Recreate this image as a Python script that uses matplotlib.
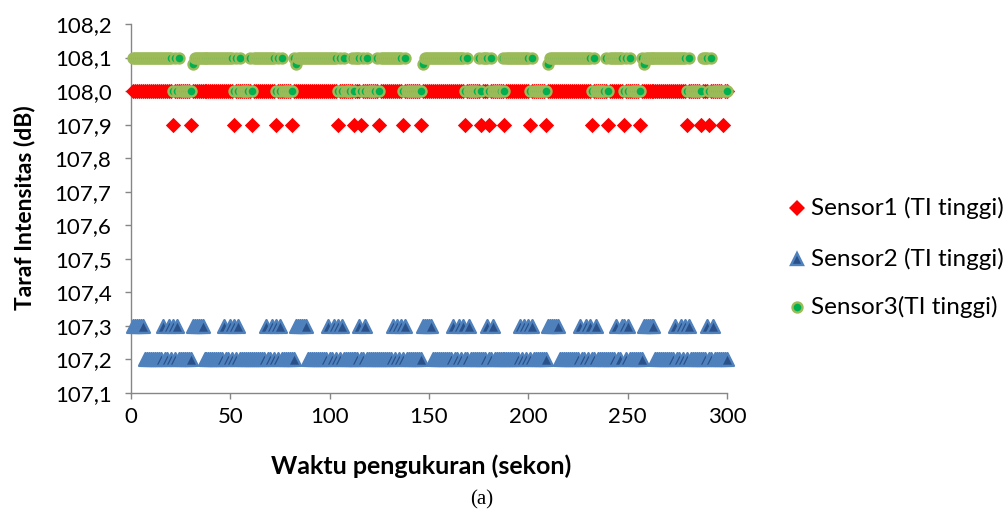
import numpy as np
import matplotlib
matplotlib.use("Agg")
import matplotlib.pyplot as plt
from matplotlib.lines import Line2D
from matplotlib.ticker import MultipleLocator, FuncFormatter

plt.rcParams['font.family'] = ['Lato', 'DejaVu Sans']

# waktu pengukuran (detik), satu data per detik
waktu = np.arange(1, 301)

# Sensor1: 108,0 dB, kecuali detik-detik ini bernilai 107,9 dB
s1_dasar = 108.0
s1_rendah = 107.9
s1_t_rendah = [21, 30, 52, 61, 73, 81, 104, 112, 116, 125, 137, 146, 168, 176,
               180, 188, 201, 209, 232, 240, 248, 256, 280, 287, 291, 298]

# Sensor2: 107,2 dB, kecuali detik-detik ini bernilai 107,3 dB
s2_dasar = 107.2
s2_tinggi = 107.3
s2_t_tinggi = [1, 2, 3, 4, 5, 6,
               16, 19, 21, 23,
               31, 32, 33, 34, 35, 36,
               47, 50, 52, 54,
               68, 71, 73, 75,
               83, 84, 85, 86, 87, 88,
               99, 102, 104, 106,
               115, 118,
               132, 134, 136, 138,
               147, 148, 149, 150, 151,
               162, 165, 167, 170,
               179, 182,
               196, 198, 200, 202,
               210, 211, 212, 213, 214, 215,
               226, 229, 231, 234,
               244, 247, 248, 250,
               258, 259, 260, 261, 262, 263,
               274, 277, 279, 281,
               290, 293]

# Sensor3: 108,1 dB, kecuali detik-detik ini
s3_dasar = 108.1
s3_rendah = 108.0
s3_t_rendah = [21, 23, 25, 26, 27, 28, 29, 30,
               52, 54, 56, 57, 58, 59, 61,
               73, 75, 77, 78, 79, 80, 81,
               104, 106, 108, 109, 110, 112,
               116, 118, 120, 121, 122, 123, 125,
               137, 139, 140, 141, 142, 143, 144, 145, 146,
               168, 170, 171, 172, 173, 174, 176,
               180, 182, 183, 184, 185, 186, 188,
               201, 203, 204, 205, 206, 207, 208, 209,
               232, 234, 235, 236, 237, 238, 240,
               248, 250, 252, 253, 254, 255, 256,
               280, 282, 283, 284, 285, 286, 287,
               291, 293, 294, 295, 296, 297, 298, 299, 300]
s3_antara = 108.08
s3_t_antara = [31, 83, 147, 210, 258]

label1 = 'Sensor1 (TI tinggi)'
label2 = 'Sensor2 (TI tinggi)'
label3 = 'Sensor3(TI tinggi)'

s1 = np.where(np.isin(waktu, s1_t_rendah), s1_rendah, s1_dasar)
s2 = np.where(np.isin(waktu, s2_t_tinggi), s2_tinggi, s2_dasar)
s3 = np.where(np.isin(waktu, s3_t_rendah), s3_rendah, s3_dasar)
s3 = np.where(np.isin(waktu, s3_t_antara), s3_antara, s3)

merah = '#FF0000'
biru_isi, biru_tepi = '#2A5189', '#4F81BD'
hijau_isi, hijau_tepi = '#00B050', '#9BBB59'

gaya1 = dict(marker='D', s=7.8 ** 2, color=merah, linewidths=0)
gaya2 = dict(marker='^', s=9.2 ** 2, facecolor=biru_isi, edgecolor=biru_tepi, linewidths=1.7)
gaya3 = dict(marker='o', s=7.2 ** 2, facecolor=hijau_isi, edgecolor=hijau_tepi, linewidths=1.7)

fig = plt.figure(figsize=(10.07, 5.19), dpi=100)
ax = fig.add_axes([131 / 1007, 1 - 393 / 519, (727 - 131) / 1007, (393 - 24) / 519])

ax.scatter(waktu, s1, clip_on=False, zorder=3, **gaya1)
ax.scatter(waktu, s2, clip_on=False, zorder=4, **gaya2)
ax.scatter(waktu, s3, clip_on=False, zorder=5, **gaya3)

ax.set_xlim(0, 300)
ax.set_ylim(107.1, 108.2)
ax.xaxis.set_major_locator(MultipleLocator(50))
ax.yaxis.set_major_locator(MultipleLocator(0.1))
ax.yaxis.set_major_formatter(FuncFormatter(lambda v, p: f'{v:.1f}'.replace('.', ',')))

for side in ['top', 'right']:
    ax.spines[side].set_visible(False)
for side in ['left', 'bottom']:
    ax.spines[side].set_color('#868686')
    ax.spines[side].set_linewidth(1.0)
ax.tick_params(colors='#868686', length=4, width=1.0, labelsize=16, labelcolor='black')
ax.tick_params(axis='y', pad=10)
ax.tick_params(axis='x', pad=6)

# judul sumbu
fig.text(421 / 1007, 1 - 466 / 519, 'Waktu pengukuran (sekon)', fontsize=18,
         fontweight='bold', ha='center', va='center')
fig.text(25 / 1007, 1 - 208 / 519, 'Taraf Intensitas (dB)', fontsize=16.5,
         fontweight='bold', ha='center', va='center', rotation=90)

# legenda
for y, lab, g in [(208, label1, gaya1), (259, label2, gaya2), (307, label3, gaya3)]:
    yf = 1 - y / 519
    h = Line2D([797 / 1007], [yf], transform=fig.transFigure, linestyle='none',
               marker=g['marker'], markersize=np.sqrt(g['s']),
               markerfacecolor=g.get('facecolor', g.get('color')),
               markeredgecolor=g.get('edgecolor', g.get('color')),
               markeredgewidth=g['linewidths'])
    fig.add_artist(h)
    fig.text(811 / 1007, yf, lab, fontsize=17.5, va='center', ha='left')

fig.text(482 / 1007, 1 - 500 / 519, '(a)', fontsize=15, ha='center', va='center',
         family=['Liberation Serif', 'DejaVu Serif'])

fig.savefig('out.png', dpi=100)
